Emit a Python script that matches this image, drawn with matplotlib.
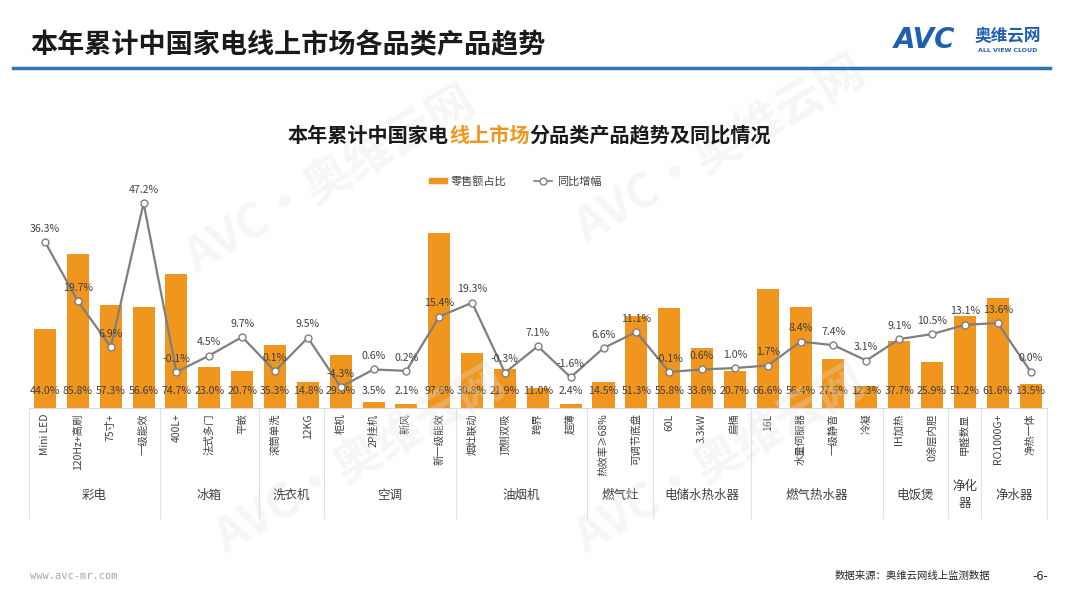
import matplotlib
matplotlib.use('Agg')
import numpy as np
import matplotlib.pyplot as plt
import matplotlib.transforms as mtransforms
from matplotlib.lines import Line2D
from matplotlib.patches import Patch

plt.rcParams['font.family'] = ['Noto Sans CJK SC', 'DejaVu Sans']

# 数据
groups = ['彩电', '冰箱', '洗衣机', '空调', '油烟机', '燃气灶', '电储水热水器',
          '燃气热水器', '电饭煲', '净化\n器', '净水器']
group_sizes = [4, 3, 2, 4, 4, 2, 3, 4, 2, 1, 2]
categories = ['Mini LED', '120Hz+高刷', '75寸+', '一级能效',
              '400L+', '法式多门', '平嵌',
              '滚筒单洗', '12KG',
              '柜机', '2P挂机', '新风', '新一级能效',
              '烟灶联动', '顶侧双吸', '跨界', '超薄',
              '热效率≥68%', '可调节底盘',
              '60L', '3.3kW', '扁桶',
              '16L', '水量伺服器', '一级静音', '冷凝',
              'IH加热', '0涂层内胆',
              '甲醛数显',
              'RO1000G+', '净热一体']
share = [44.0, 85.8, 57.3, 56.6,
         74.7, 23.0, 20.7,
         35.3, 14.8,
         29.6, 3.5, 2.1, 97.6,
         30.8, 21.9, 11.0, 2.4,
         14.5, 51.3,
         55.8, 33.6, 20.7,
         66.6, 56.4, 27.5, 12.3,
         37.7, 25.9,
         51.2,
         61.6, 13.5]
growth = [36.3, 19.7, 6.9, 47.2,
          -0.1, 4.5, 9.7,
          0.1, 9.5,
          -4.3, 0.6, 0.2, 15.4,
          19.3, -0.3, 7.1, -1.6,
          6.6, 11.1,
          -0.1, 0.6, 1.0,
          1.7, 8.4, 7.4, 3.1,
          9.1, 10.5,
          13.1,
          13.6, 0.0]

orange = '#F0961F'
gray_line = '#7F7F7F'
txt = '#404040'

fig = plt.figure(figsize=(10.8, 6.07), dpi=100)

# 页面标题和装饰
fig.text(30 / 1080, 1 - 45 / 607, '本年累计中国家电线上市场各品类产品趋势', fontsize=19.5,
         fontweight='bold', color='#1a1a1a', va='center', ha='left')
fig.add_artist(Line2D([13 / 1080, 1050 / 1080], [1 - 68 / 607] * 2, color='#2E75B6',
                      linewidth=2.5, transform=fig.transFigure))
fig.text(925 / 1080, 1 - 40 / 607, 'AVC', fontsize=20, fontweight='bold', fontstyle='italic',
         color='#1F5FAF', ha='center', va='center', family=['DejaVu Sans'])
fig.text(1008 / 1080, 1 - 36 / 607, '奥维云网', fontsize=12, fontweight='bold',
         color='#1F5FAF', ha='center', va='center')
fig.text(1008 / 1080, 1 - 50 / 607, 'ALL VIEW CLOUD', fontsize=4.5, fontweight='bold',
         color='#1F5FAF', ha='center', va='center', family=['DejaVu Sans'])

# 水印
for (wx, wy) in [(330, 180), (720, 150), (360, 460), (720, 460)]:
    fig.text(wx / 1080, 1 - wy / 607, 'AVC·奥维云网', fontsize=34, fontweight='bold',
             color='#e2e2e2', alpha=0.3, rotation=30, ha='center', va='center', zorder=0)

# 图表标题（线上市场 橙色）
title_parts = [('本年累计中国家电', '#1a1a1a'), ('线上市场', orange), ('分品类产品趋势及同比情况', '#1a1a1a')]
fs_title = 14.5
char_w = fs_title * 100 / 72
x0 = 288
for part, c in title_parts:
    fig.text(x0 / 1080, 1 - 135 / 607, part, fontsize=fs_title, fontweight='bold', color=c,
             ha='left', va='center')
    x0 += len(part) * char_w

# 主图
ax = fig.add_axes([28.6 / 1080, 1 - 408 / 607, (1047 - 28.6) / 1080, 218 / 607])
x = np.arange(len(categories))
ax.bar(x, share, width=0.67, color=orange, zorder=2)
ax.set_xlim(-0.5, len(categories) - 0.5)
ax.set_ylim(0, 121.8)
for s in ['top', 'right', 'left']:
    ax.spines[s].set_visible(False)
ax.spines['bottom'].set_color('#d9d9d9')
ax.set_yticks([])
ax.set_xticks([])

for xi, v in zip(x, share):
    ax.annotate(f'{v:.1f}%', (xi, 0), xytext=(0, 9), textcoords='offset points',
                ha='center', va='bottom', fontsize=7.6, color=txt, zorder=5)

ax2 = ax.twinx()
ax2.plot(x, growth, color=gray_line, linewidth=1.6, marker='o', markersize=5,
         markerfacecolor='white', markeredgecolor=gray_line, markeredgewidth=1, zorder=3)
ax2.set_ylim(-10.2, -10.2 + 218 / 3.57)
ax2.axis('off')
for xi, v in zip(x, growth):
    ax2.annotate(f'{v:.1f}%', (xi, v), xytext=(0, 6), textcoords='offset points',
                 ha='center', va='bottom', fontsize=7.6, color=txt, zorder=5)

# 类别标签与分组
trans = mtransforms.blended_transform_factory(ax.transData, ax.transAxes)
for xi, lab in zip(x, categories):
    ax.text(xi, -0.025, lab, transform=trans, rotation=90, ha='center', va='top',
            fontsize=7.5, color=txt)
edges = np.concatenate([[0], np.cumsum(group_sizes)]) - 0.5
for e in edges:
    ax.add_line(Line2D([e, e], [0, -0.505], transform=trans, color='#e0e0e0',
                       linewidth=0.8, clip_on=False))
for g, a, b in zip(groups, edges[:-1], edges[1:]):
    ax.text((a + b) / 2, -0.40, g, transform=trans, ha='center', va='center',
            fontsize=9, color=txt, linespacing=1.4)

# 图例
handles = [Patch(color=orange, label='零售额占比'),
           Line2D([0], [0], color=gray_line, marker='o', markerfacecolor='white',
                  markersize=5, linewidth=1.2, label='同比增幅')]
fig.legend(handles=handles, loc='center', bbox_to_anchor=(515 / 1080, 1 - 181 / 607),
           ncol=2, frameon=False, fontsize=8, handlelength=1.6, handleheight=0.35,
           columnspacing=2.5, handletextpad=0.4, labelcolor=txt)

# 页脚
fig.text(30 / 1080, 1 - 576 / 607, 'www.avc-mr.com', fontsize=7.5, color='#a6a6a6',
         ha='left', va='center', family=['DejaVu Sans Mono'])
fig.text(835 / 1080, 1 - 576 / 607, '数据来源：奥维云网线上监测数据', fontsize=7.5,
         color='#262626', ha='left', va='center')
fig.text(1040 / 1080, 1 - 576 / 607, '-6-', fontsize=9, color='#262626',
         ha='center', va='center')

plt.savefig('out.png', dpi=100)
